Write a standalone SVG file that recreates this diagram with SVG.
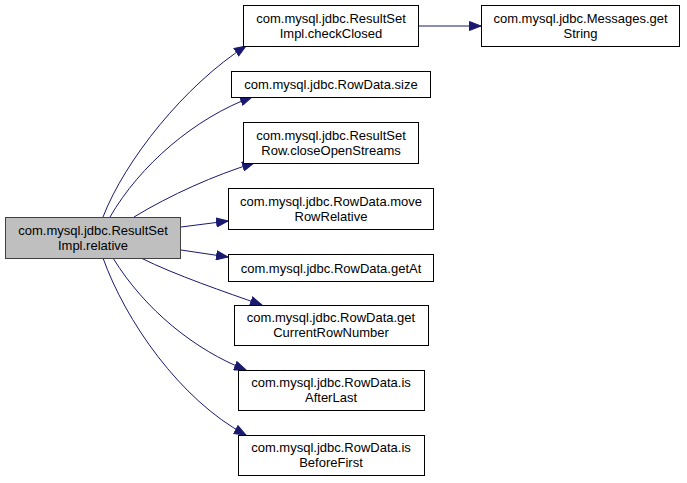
<svg xmlns="http://www.w3.org/2000/svg" width="687" height="483" viewBox="0 0 687 483">
<style>
.n rect{fill:#ffffff;stroke:#000000;stroke-width:1}
.n.main rect{fill:#bfbfbf;stroke:#404040}
.n text{font-family:"Liberation Sans",Arial,sans-serif;font-size:13px;text-anchor:middle;fill:#000000}
.e path{fill:none;stroke:#191970;stroke-width:1}
</style>
<defs>
<marker id="ah" markerUnits="userSpaceOnUse" markerWidth="13" markerHeight="10" refX="12" refY="5" orient="auto">
<path d="M0.5,0.5 L12,5 L0.5,9.5 z" fill="#191970" stroke="#191970" stroke-width="1"/>
</marker>
</defs>
<rect width="687" height="483" fill="#ffffff"/>
<g id="connectors" class="e">
<path d="M103,217 C125,160 185,85 246,46" marker-end="url(#ah)"/>
<path d="M110,217 C140,165 195,118 252,97" marker-end="url(#ah)"/>
<path d="M134,217 C170,195 215,175 254,163" marker-end="url(#ah)"/>
<path d="M181,227 L228,221" marker-end="url(#ah)"/>
<path d="M181,250 L228,257" marker-end="url(#ah)"/>
<path d="M141,258 C175,275 225,292 262,305" marker-end="url(#ah)"/>
<path d="M113,258 C145,310 195,350 246,370" marker-end="url(#ah)"/>
<path d="M103,258 C125,320 180,400 246,435" marker-end="url(#ah)"/>
<path d="M418,26 L481,26" marker-end="url(#ah)"/>
</g>
<g id="node_relative" class="n main">
<rect x="5.5" y="217.5" width="175" height="41"/>
<text x="93" y="234.5">com.mysql.jdbc.ResultSet</text>
<text x="93" y="249.5">Impl.relative</text>
</g>
<g id="node_checkClosed" class="n">
<rect x="243.5" y="5.5" width="175" height="41"/>
<text x="331" y="22.5">com.mysql.jdbc.ResultSet</text>
<text x="331" y="37.5">Impl.checkClosed</text>
</g>
<g id="node_getString" class="n">
<rect x="481.5" y="5.5" width="198" height="41"/>
<text x="580.5" y="22.5">com.mysql.jdbc.Messages.get</text>
<text x="580.5" y="37.5">String</text>
</g>
<g id="node_size" class="n">
<rect x="231.5" y="71.5" width="199" height="26"/>
<text x="331" y="89">com.mysql.jdbc.RowData.size</text>
</g>
<g id="node_closeOpenStreams" class="n">
<rect x="243.5" y="122.5" width="175" height="41"/>
<text x="331" y="139.5">com.mysql.jdbc.ResultSet</text>
<text x="331" y="154.5">Row.closeOpenStreams</text>
</g>
<g id="node_moveRowRelative" class="n">
<rect x="228.5" y="188.5" width="205" height="41"/>
<text x="331" y="205.5">com.mysql.jdbc.RowData.move</text>
<text x="331" y="220.5">RowRelative</text>
</g>
<g id="node_getAt" class="n">
<rect x="228.5" y="254.5" width="205" height="27"/>
<text x="331" y="272.5">com.mysql.jdbc.RowData.getAt</text>
</g>
<g id="node_getCurrentRowNumber" class="n">
<rect x="234.5" y="305.5" width="194" height="40"/>
<text x="331" y="322">com.mysql.jdbc.RowData.get</text>
<text x="331" y="337">CurrentRowNumber</text>
</g>
<g id="node_isAfterLast" class="n">
<rect x="238.5" y="370.5" width="186" height="40"/>
<text x="331" y="387">com.mysql.jdbc.RowData.is</text>
<text x="331" y="402">AfterLast</text>
</g>
<g id="node_isBeforeFirst" class="n">
<rect x="238.5" y="435.5" width="186" height="40"/>
<text x="331" y="452">com.mysql.jdbc.RowData.is</text>
<text x="331" y="467">BeforeFirst</text>
</g>
</svg>
